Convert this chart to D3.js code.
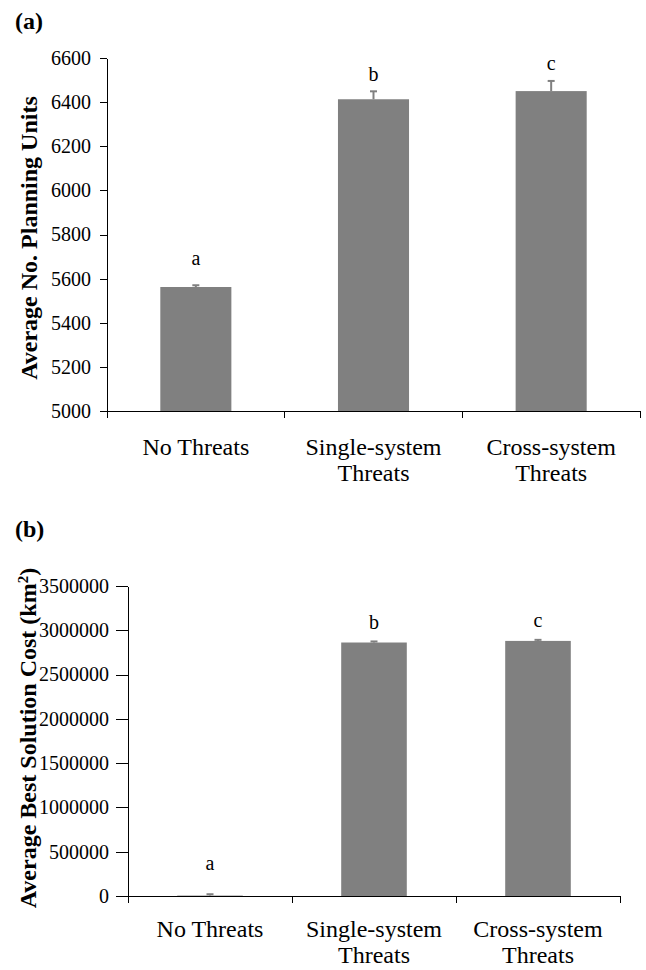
<!DOCTYPE html>
<html>
<head>
<meta charset="utf-8">
<script src="https://cdn.jsdelivr.net/npm/d3@7"></script>
<style>
	body { margin: 0; background: #fff; }
	svg text { font-family: "Liberation Serif", "Times New Roman", serif; fill: #000; }
</style>
</head>
<body>
<div id="chart"></div>
<script>
// categories, each split over lines as in the figure
var categories = [["No Threats"], ["Single-system", "Threats"], ["Cross-system", "Threats"]];
var letters = ["a", "b", "c"];

// (a) average number of planning units
var planningUnits = [5562, 6413, 6450];
var planningErrors = [8, 36, 46];
var planningTicks = [5000, 5200, 5400, 5600, 5800, 6000, 6200, 6400, 6600];

// (b) average best solution cost
var bestCost = [5000, 2862000, 2880000];
var costErrors = [15000, 12000, 12000];
var costTicks = [0, 500000, 1000000, 1500000, 2000000, 2500000, 3000000, 3500000];

var BAR_COLOUR = "#808080";
var SERIF = '"Liberation Serif", "Times New Roman", serif';

var svg = d3.select('#chart').append('svg').attr('width', 646).attr('height', 970);

/**
 * Draws one panel. opts holds its frame in pixels and the look of its axis.
 **/
function drawPanel(opts) {
	let g = svg.append('g');
	let n = opts.values.length;

	let x = d3.scaleBand().domain(d3.range(n))
		.range([opts.left, opts.right])
		.paddingInner(0.6).paddingOuter(0.3);
	let xEdge = d3.scaleLinear().domain([0, n]).range([opts.left, opts.right]);
	let y = d3.scaleLinear().domain(opts.domain).range([opts.bottom, opts.top]);

	// panel letter
	g.append('text').attr('x', 15).attr('y', opts.titleY)
		.attr('font-size', 24).attr('font-weight', 'bold')
		.text(opts.title);

	// bars
	g.selectAll('rect.bar').data(opts.values).enter().append('rect')
		.attr('class', 'bar')
		.attr('x', (d, i) => x(i))
		.attr('width', x.bandwidth())
		.attr('y', d => y(d))
		.attr('height', d => y(opts.domain[0]) - y(d))
		.attr('fill', BAR_COLOUR);

	// error bars (upper half only)
	let err = g.selectAll('g.err').data(opts.values).enter().append('g').attr('class', 'err');
	err.append('line')
		.attr('x1', (d, i) => x(i) + x.bandwidth() / 2)
		.attr('x2', (d, i) => x(i) + x.bandwidth() / 2)
		.attr('y1', d => y(d))
		.attr('y2', (d, i) => y(d + opts.errors[i]))
		.attr('stroke', BAR_COLOUR).attr('stroke-width', 2);
	err.append('line')
		.attr('x1', (d, i) => x(i) + x.bandwidth() / 2 - 3.5)
		.attr('x2', (d, i) => x(i) + x.bandwidth() / 2 + 3.5)
		.attr('y1', (d, i) => y(d + opts.errors[i]))
		.attr('y2', (d, i) => y(d + opts.errors[i]))
		.attr('stroke', BAR_COLOUR).attr('stroke-width', 2);

	// significance letters
	g.selectAll('text.letter').data(opts.values).enter().append('text')
		.attr('class', 'letter')
		.attr('x', (d, i) => x(i) + x.bandwidth() / 2)
		.attr('y', (d, i) => y(d + opts.errors[i]) - opts.letterGaps[i])
		.attr('text-anchor', 'middle').attr('font-size', 20)
		.text((d, i) => letters[i]);

	// y axis
	let yAxis = g.append('g').attr('transform', 'translate(' + opts.left + ',0)')
		.call(d3.axisLeft(y).tickValues(opts.ticks)
			.tickSize(opts.tickSize).tickSizeOuter(0)
			.tickPadding(opts.tickPadding)
			.tickFormat(d3.format('d')));
	yAxis.attr('font-family', SERIF);
	yAxis.selectAll('text').attr('font-size', 20)
		.style('font-family', SERIF).attr('fill', '#000');
	yAxis.selectAll('path, line').attr('stroke', '#000').attr('shape-rendering', 'crispEdges');

	// x axis line and category dividers
	g.append('line')
		.attr('x1', opts.left).attr('x2', opts.right)
		.attr('y1', opts.bottom).attr('y2', opts.bottom)
		.attr('stroke', '#000').attr('shape-rendering', 'crispEdges');
	g.selectAll('line.divider').data(d3.range(n + 1)).enter().append('line')
		.attr('class', 'divider')
		.attr('x1', d => xEdge(d)).attr('x2', d => xEdge(d))
		.attr('y1', opts.bottom).attr('y2', opts.bottom + 7)
		.attr('stroke', '#000').attr('shape-rendering', 'crispEdges');

	// category labels
	let labels = g.selectAll('text.cat').data(categories).enter().append('text')
		.attr('class', 'cat')
		.attr('text-anchor', 'middle').attr('font-size', 24)
		.attr('x', (d, i) => x(i) + x.bandwidth() / 2)
		.attr('y', opts.bottom + opts.catGap);
	labels.selectAll('tspan').data(d => d).enter().append('tspan')
		.attr('x', function() { return this.parentNode.getAttribute('x'); })
		.attr('dy', (d, j) => j == 0 ? 0 : 26)
		.text(d => d);

	// y axis title
	let ty = g.append('text')
		.attr('transform', 'translate(' + opts.yTitleX + ',' + opts.yTitleY + ') rotate(-90)')
		.attr('text-anchor', 'middle').attr('font-size', 24).attr('font-weight', 'bold');
	ty.text(opts.yTitle);
	if(opts.yTitleSup) {
		ty.append('tspan').attr('baseline-shift', 'super').attr('font-size', 15).text(opts.yTitleSup);
		ty.append('tspan').text(')');
	}
}

drawPanel({
	title: '(a)', titleY: 29,
	values: planningUnits, errors: planningErrors,
	domain: [5000, 6600], ticks: planningTicks,
	left: 107, right: 640, top: 58, bottom: 411,
	tickSize: 7, tickPadding: 9, letterGaps: [20, 10, 11], catGap: 44,
	yTitle: 'Average No. Planning Units', yTitleX: 37, yTitleY: 238
});

drawPanel({
	title: '(b)', titleY: 537,
	values: bestCost, errors: costErrors,
	domain: [0, 3500000], ticks: costTicks,
	left: 128, right: 620, top: 586, bottom: 896,
	tickSize: 12, tickPadding: 7, letterGaps: [24, 12, 13], catGap: 41,
	yTitle: 'Average Best Solution Cost (km', yTitleSup: '2', yTitleX: 36, yTitleY: 738
});
</script>
</body>
</html>
